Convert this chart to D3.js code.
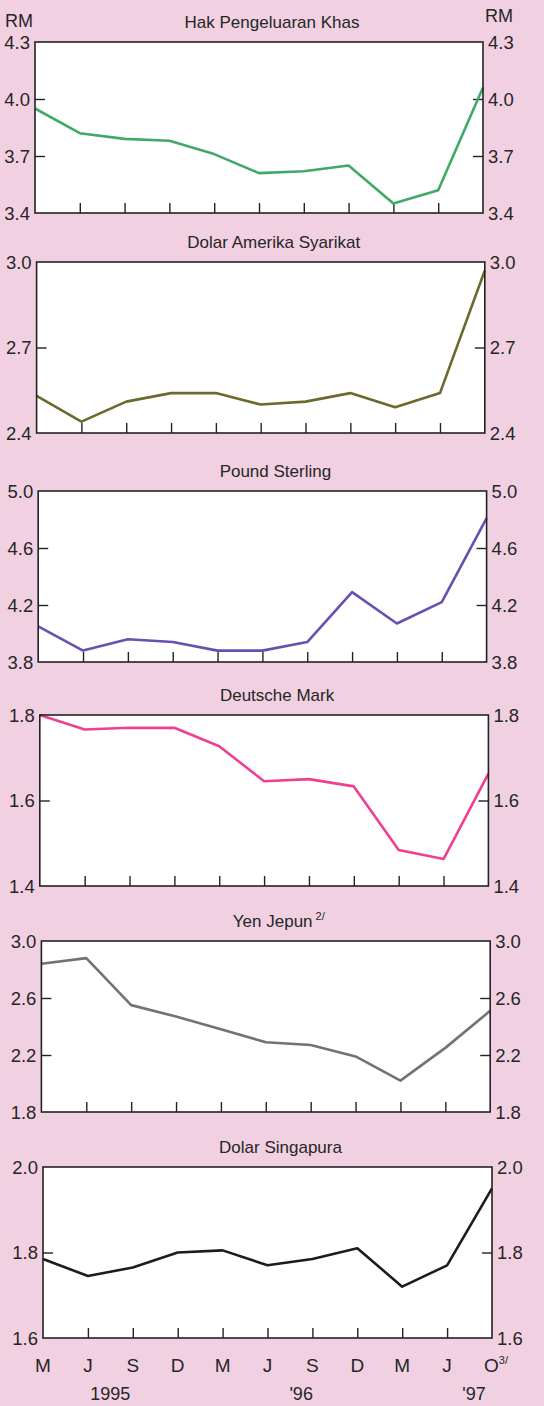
<!DOCTYPE html>
<html>
<head>
<meta charset="utf-8">
<script src="https://cdn.jsdelivr.net/npm/d3@7/dist/d3.min.js"></script>
<style>
  html, body { margin: 0; padding: 0; background: #f1d0e2; }
  svg { display: block; }
  text { font-family: "Liberation Sans", Arial, sans-serif; fill: #262626; }
</style>
</head>
<body>
<svg id="chart" width="544" height="1406"></svg>
<script>
// ---- data ----
const months = ["M", "J", "S", "D", "M", "J", "S", "D", "M", "J", "O"];
const years = [
  { label: "1995", at: 1.5 },
  { label: "'96", at: 5.75 },
  { label: "'97", at: 9.6 }
];
const titles = ["Hak Pengeluaran Khas", "Dolar Amerika Syarikat", "Pound Sterling", "Deutsche Mark", "Yen  Jepun", "Dolar Singapura"];
const titleNotes = ["", "", "", "", "2/", ""];
const yDomains = [[3.4, 4.3], [2.4, 3.0], [3.8, 5.0], [1.4, 1.8], [1.8, 3.0], [1.6, 2.0]];
const yTicks = [
  [3.4, 3.7, 4.0, 4.3],
  [2.4, 2.7, 3.0],
  [3.8, 4.2, 4.6, 5.0],
  [1.4, 1.6, 1.8],
  [1.8, 2.2, 2.6, 3.0],
  [1.6, 1.8, 2.0]
];
const sdrValues = [3.95, 3.82, 3.79, 3.78, 3.71, 3.61, 3.62, 3.65, 3.45, 3.52, 4.06];
const usdValues = [2.53, 2.44, 2.51, 2.54, 2.54, 2.50, 2.51, 2.54, 2.49, 2.54, 2.97];
const gbpValues = [4.05, 3.88, 3.96, 3.94, 3.88, 3.88, 3.94, 4.29, 4.07, 4.22, 4.81];
const dmValues = [1.80, 1.766, 1.77, 1.77, 1.727, 1.645, 1.65, 1.633, 1.484, 1.463, 1.663];
const yenValues = [2.84, 2.88, 2.55, 2.47, 2.38, 2.29, 2.27, 2.19, 2.02, 2.25, 2.51];
const sgdValues = [1.785, 1.745, 1.765, 1.80, 1.805, 1.77, 1.785, 1.81, 1.72, 1.77, 1.95];
const seriesValues = [sdrValues, usdValues, gbpValues, dmValues, yenValues, sgdValues];

// ---- styles / layout ----
const lineColors = ["#3faa66", "#6b6a2c", "#6a4fb2", "#ee3f92", "#727272", "#1c1c1c"];
const panelTops = [42, 262, 491, 715, 941, 1167];
const panelHeight = 171;

const svg = d3.select("#chart");

seriesValues.forEach((vals, i) => {
  const left = 35 + 1.6 * i;
  const right = 483 + 1.8 * i;
  const top = panelTops[i];
  const bottom = top + panelHeight;

  const x = d3.scalePoint().domain(d3.range(months.length)).range([left, right]);
  const y = d3.scaleLinear().domain(yDomains[i]).range([bottom, top]);

  const g = svg.append("g");

  g.append("rect")
    .attr("x", left).attr("y", top)
    .attr("width", right - left).attr("height", bottom - top)
    .attr("fill", "#ffffff");

  // inner ticks via axes
  const inner = yTicks[i].slice(1, -1);
  const leftAxis = d3.axisRight(y).tickValues(inner).tickSize(10).tickFormat("");
  const rightAxis = d3.axisLeft(y).tickValues(inner).tickSize(10).tickFormat("");
  const bottomAxis = d3.axisTop(x).tickValues(d3.range(1, months.length - 1)).tickSize(10).tickFormat("");

  [[leftAxis, `translate(${left},0)`], [rightAxis, `translate(${right},0)`], [bottomAxis, `translate(0,${bottom})`]]
    .forEach(([ax, tr]) => {
      const a = g.append("g").attr("transform", tr).call(ax);
      a.select(".domain").remove();
      a.selectAll("line").attr("stroke", "#222").attr("stroke-width", 1.4);
    });

  // tick labels
  yTicks[i].forEach(v => {
    g.append("text").attr("x", left - 5).attr("y", y(v)).attr("dy", "0.36em")
      .attr("text-anchor", "end").attr("font-size", 18.5).text(v.toFixed(1));
    g.append("text").attr("x", right + 5).attr("y", y(v)).attr("dy", "0.36em")
      .attr("text-anchor", "start").attr("font-size", 18.5).text(v.toFixed(1));
  });

  // line
  const line = d3.line().x((d, j) => x(j)).y(d => y(d));
  g.append("path").datum(vals)
    .attr("d", line)
    .attr("fill", "none")
    .attr("stroke", lineColors[i])
    .attr("stroke-width", 2.6)
    .attr("stroke-linejoin", "round");

  // frame
  g.append("rect")
    .attr("x", left).attr("y", top)
    .attr("width", right - left).attr("height", bottom - top)
    .attr("fill", "none").attr("stroke", "#222").attr("stroke-width", 1.6);

  // title
  const t = g.append("text").attr("x", (left + right) / 2 + 13).attr("y", top - 14)
    .attr("text-anchor", "middle").attr("font-size", 17).text(titles[i]);
  if (titleNotes[i]) {
    t.append("tspan").attr("font-size", 11).attr("dy", -7).text(" " + titleNotes[i]);
  }

  // x labels under last panel
  if (i === seriesValues.length - 1) {
    months.forEach((m, j) => {
      const tx = g.append("text").attr("x", x(j) + (j === months.length - 1 ? 4 : 0)).attr("y", bottom + 34)
        .attr("text-anchor", "middle").attr("font-size", 19).text(m);
      if (j === months.length - 1) {
        tx.append("tspan").attr("font-size", 11).attr("dy", -8).text("3/");
      }
    });
    years.forEach(yr => {
      const xs = d3.scaleLinear().domain([0, months.length - 1]).range([left, right]);
      g.append("text").attr("x", xs(yr.at)).attr("y", bottom + 62)
        .attr("text-anchor", "middle").attr("font-size", 18).text(yr.label);
    });
  }
});

// RM unit labels
svg.append("text").attr("x", 5).attr("y", 27).attr("font-size", 18).text("RM");
svg.append("text").attr("x", 485).attr("y", 22).attr("font-size", 18).text("RM");
</script>
</body>
</html>
